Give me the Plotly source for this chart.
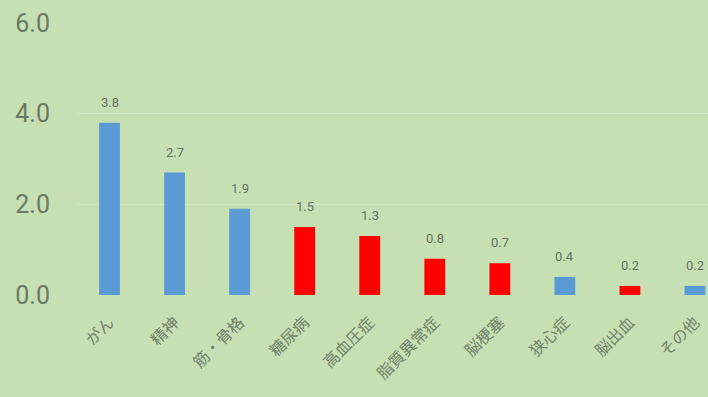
import plotly.graph_objects as go

categories = ["がん", "精神", "筋・骨格", "糖尿病", "高血圧症", "脂質異常症", "脳梗塞", "狭心症", "脳出血", "その他"]
values = [3.8, 2.7, 1.9, 1.5, 1.3, 0.8, 0.7, 0.4, 0.2, 0.2]
bar_colors = ["#5b9bd5", "#5b9bd5", "#5b9bd5", "#ff0000", "#ff0000", "#ff0000", "#ff0000", "#5b9bd5", "#ff0000", "#5b9bd5"]
y_ticks = [0, 2, 4, 6]

fig = go.Figure(go.Bar(
    x=categories, y=values,
    marker=dict(color=bar_colors, line=dict(width=0)),
    width=0.32,
    cliponaxis=False,
))

for c, v in zip(categories, values):
    fig.add_annotation(
        x=c, y=v, text=f"{v:.1f}", showarrow=False,
        yanchor="bottom", yshift=11,
        font=dict(size=13, color="#66745c", family="Liberation Sans Narrow, Roboto, sans-serif"),
    )

fig.update_layout(
    width=708, height=397,
    margin=dict(l=77, r=0, t=23, b=102),
    paper_bgcolor="#c6e0b4", plot_bgcolor="#c6e0b4",
    showlegend=False,
    font=dict(family="Noto Sans CJK JP, sans-serif"),
)
fig.update_xaxes(
    range=[-0.5, 9.2], tickangle=-45, showgrid=False, showline=False, ticks="",
    tickfont=dict(size=16, color="#72836a", family="Noto Sans CJK JP"),
    ticklabelstandoff=14,
)
fig.update_yaxes(
    range=[0, 6], tickvals=y_ticks, tickformat=".1f",
    showgrid=True, gridcolor="#d2e7c4", gridwidth=1, zeroline=False, showline=False,
    tickfont=dict(size=25, color="#6b7a62", family="Liberation Sans Narrow, Roboto, sans-serif"),
    ticklabelstandoff=26,
)
fig.write_html("out.html", config={"displayModeBar": False},
               post_script="document.body.style.margin='0';document.body.style.overflow='hidden';")
